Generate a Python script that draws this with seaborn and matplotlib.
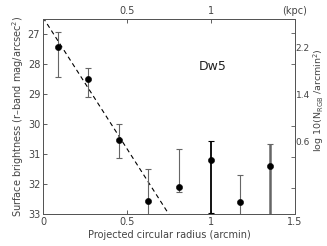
import matplotlib
matplotlib.use("Agg")
import matplotlib.pyplot as plt
import numpy as np
import pandas as pd
import seaborn as sns

# surface brightness profile of Dw5
radius = [0.09, 0.27, 0.45, 0.625, 0.81, 1.0, 1.17, 1.35]
mu = [27.45, 28.5, 30.55, 32.55, 32.1, 31.2, 32.6, 31.4]
err_up = [0.5, 0.37, 0.55, 1.05, 1.25, 0.62, 0.9, 0.72]     # towards brighter (up on plot)
err_low = [0.98, 0.6, 0.6, 0.6, 0.17, 1.78, 0.6, 1.8]      # towards fainter (down on plot)
bar_color = ["#666666", "#666666", "#666666", "#666666", "#666666", "black", "#666666", "#666666"]
bar_width = [0.8, 0.8, 0.8, 0.8, 0.8, 1.3, 0.8, 1.8]

# exponential fit (linear in magnitudes)
fit_x = [0.0, 0.76]
fit_y = [26.45, 33.1]

top_ticks = [0.5, 1.0, 1.5]
top_labels = ["0.5", "1", "(kpc)"]
right_ticks = [2.2, 1.4, 0.6]
right_minor = [2.455, 1.928, 1.4, 0.872, 0.345, -0.183]

df = pd.DataFrame({"r": radius, "mu": mu})

sns.set_style("ticks")
plt.rcParams["font.family"] = ["DejaVu Sans"]
txt = "#444444"
edge = "#555555"

fig = plt.figure(figsize=(3.27, 2.46), dpi=100)
ax = fig.add_axes([0.1315, 0.130, 0.7705, 0.793])

for i in range(len(radius)):
    # y axis is inverted: the "minus" error points up on the plot
    ax.errorbar(radius[i], mu[i], yerr=[[err_up[i]], [err_low[i]]], fmt="none",
                ecolor=bar_color[i], elinewidth=bar_width[i], capsize=2.2,
                capthick=0.8, zorder=2)

sns.lineplot(x=fit_x, y=fit_y, ax=ax, color="black", lw=0.8,
             linestyle=(0, (4, 3)), zorder=1)
sns.scatterplot(data=df, x="r", y="mu", ax=ax, color="black", s=20,
                edgecolor="black", zorder=3)

ax.set_xlim(0, 1.5)
ax.set_ylim(33, 26.5)
ax.set_xticks([0, 0.5, 1, 1.5])
ax.set_xticklabels(["0", "0.5", "1", "1.5"])
ax.set_yticks([27, 28, 29, 30, 31, 32, 33])
ax.tick_params(direction="in", length=3, labelsize=7, colors=txt,
               width=0.6, pad=2)
ax.set_xlabel("Projected circular radius (arcmin)", fontsize=7, color=txt,
              labelpad=2)
ax.set_ylabel("Surface brightness (r\u2013band mag/arcsec$^2$)", fontsize=7,
              color=txt, labelpad=1)
for s in ax.spines.values():
    s.set_color(edge)
    s.set_linewidth(0.7)

ax.text(1.01, 28.1, "Dw5", fontsize=9, color="#222222", ha="center", va="center")

# top axis in kpc
axt = ax.twiny()
axt.set_xlim(0, 1.5)
axt.set_xticks(top_ticks)
axt.set_xticklabels(top_labels)
axt.tick_params(direction="in", length=3, labelsize=7, colors=txt,
                width=0.6, pad=2)

# right axis in log10 N_RGB
axr = ax.twinx()
axr.set_ylim(-0.626, 2.694)
axr.set_yticks(right_ticks)
axr.set_yticks(right_minor, minor=True)
axr.tick_params(axis="y", which="major", length=0, labelsize=6.5, colors=txt, pad=0.5)
axr.tick_params(axis="y", which="minor", direction="in", length=3, width=0.6,
                color=edge)
axr.set_ylabel("log 10(N$_{\\rm RGB}$ /arcmin$^2$)", fontsize=6.8, color=txt,
               rotation=90)
axr.yaxis.label.set_va("center")
axr.yaxis.set_label_coords(1.094, 0.585)
for a in (axt, axr):
    for s in a.spines.values():
        s.set_color(edge)
        s.set_linewidth(0.7)

fig.savefig("out.png", dpi=100)
